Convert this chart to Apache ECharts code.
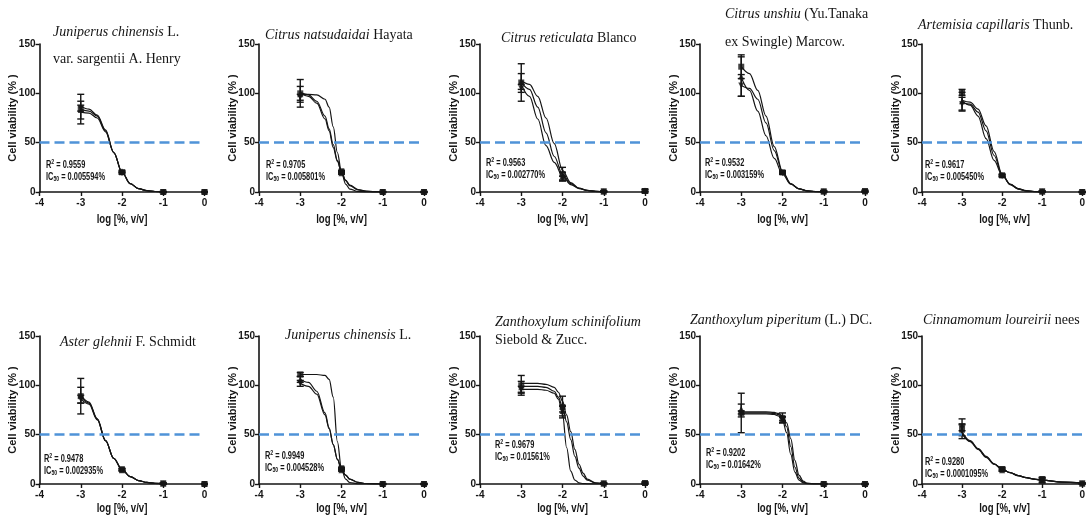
<!DOCTYPE html>
<html><head><meta charset="utf-8">
<script src="https://cdn.jsdelivr.net/npm/echarts@6/dist/echarts.min.js"></script>
<style>html,body{margin:0;padding:0;background:#fff}#c{width:1088px;height:521px}</style>
</head><body><div id="c"></div>
<script>
// ---------- data ----------
const doseX = [-3, -2, -1, 0];
const xTicks = [-4, -3, -2, -1, 0];
const yTicks = [0, 50, 100, 150];
const xAxisTitle = 'log [%, v/v]';
const yAxisTitle = 'Cell viability (% )';

const titleTexts = [
  '{i|Juniperus chinensis}{n| L.}\n{n|var. sargentii A. Henry}',
  '{i|Citrus natsudaidai}{n| Hayata}',
  '{i|Citrus reticulata}{n| Blanco}',
  '{i|Citrus unshiu}{n| (Yu.Tanaka}\n{n|ex Swingle) Marcow.}',
  '{i|Artemisia capillaris}{n| Thunb.}',
  '{i|Aster glehnii}{n| F. Schmidt}',
  '{i|Juniperus chinensis}{n| L.}',
  '{i|Zanthoxylum schinifolium}\n{n|Siebold & Zucc.}',
  '{i|Zanthoxylum piperitum}{n| (L.) DC.}',
  '{i|Cinnamomum loureirii}{n| nees}'
];
const r2Values = ['0.9559', '0.9705', '0.9563', '0.9532', '0.9617', '0.9478', '0.9949', '0.9679', '0.9202', '0.9280'];
const ic50Values = ['0.005594%', '0.005801%', '0.002770%', '0.003159%', '0.005450%', '0.002935%', '0.004528%', '0.01561%', '0.01642%', '0.0001095%'];

// curves
const curveXP1 = [-3, -2.8, -2.6, -2.4, -2.2, -2.0, -1.8, -1.6, -1.4, -1.2, -1.0];
const curvesP1 = [
  [87, 84, 78, 63, 40, 20, 8.5, 3.5, 1.4, 0.5, 0.2],
  [84, 82, 77, 62, 40, 20, 8.5, 3.5, 1.4, 0.5, 0.2],
  [81, 80, 75, 61, 40, 20, 8.5, 3.5, 1.4, 0.5, 0.2]
];
const curveXP2 = [-3, -2.8, -2.6, -2.4, -2.3, -2.2, -2.1, -2.0, -1.9, -1.8, -1.6, -1.4, -1.2, -1.0];
const curvesP2 = [
  [99, 99, 98.5, 94, 86, 66, 40, 20, 8, 3, 0.5, 0.1, 0, 0],
  [100, 97, 90, 74, 62, 45, 31, 20, 12, 7, 2.5, 0.8, 0.3, 0],
  [101, 98.5, 92, 77, 64, 48, 32, 20, 11.5, 6.5, 2.2, 0.7, 0.2, 0]
];
const curveXP3 = [-3, -2.8, -2.6, -2.4, -2.2, -2.0, -1.8, -1.6, -1.4, -1.2, -1.0];
const curvesP3 = [
  [109, 97, 74, 47, 30, 16, 7.5, 3.5, 1.5, 0.6, 0.3],
  [111, 104, 86, 60, 36, 18, 8.5, 3.8, 1.6, 0.6, 0.2],
  [113, 109, 97, 75, 49, 22, 9.5, 4, 1.6, 0.6, 0.2]
];
const curveXP4 = [-3, -2.8, -2.6, -2.4, -2.2, -2.0, -1.8, -1.6, -1.4, -1.2, -1.0];
const curvesP4 = [
  [127, 120, 103, 77, 46, 21, 8.5, 3.2, 1.1, 0.4, 0.2],
  [116, 103, 82, 57, 34, 18, 8, 3.3, 1.2, 0.5, 0.2],
  [108, 105, 94, 70, 42, 20, 8.2, 3.2, 1.1, 0.4, 0.2]
];
const curveXP5 = [-3, -2.8, -2.6, -2.4, -2.2, -2.0, -1.8, -1.6, -1.4, -1.2, -1.0];
const curvesP5 = [
  [92, 88, 77, 54, 32, 17, 8, 3.5, 1.3, 0.5, 0.2],
  [93, 91, 84, 67, 41, 18, 7.5, 3, 1.1, 0.4, 0.1],
  [91, 89, 81, 62, 37, 17.5, 7.8, 3.2, 1.2, 0.4, 0.2]
];
const curveXP6 = [-3, -2.8, -2.6, -2.4, -2.2, -2.0, -1.8, -1.6, -1.4, -1.2, -1.0];
const curvesP6 = [
  [90, 83, 66, 44, 26, 14.5, 7.5, 3.5, 1.6, 0.7, 0.3],
  [88, 82, 66, 44, 26, 14.5, 7.5, 3.5, 1.6, 0.7, 0.3],
  [86, 81, 65, 44, 26, 14.5, 7.5, 3.5, 1.6, 0.7, 0.3]
];
const curveXP7 = [-3, -2.8, -2.6, -2.4, -2.3, -2.2, -2.1, -2.0, -1.9, -1.8, -1.6, -1.4, -1.2, -1.0];
const curvesP7 = [
  [111, 111, 111, 110, 106, 88, 43, 15, 5, 1.5, 0.2, 0, 0, 0],
  [106, 103, 94, 72, 57, 40, 25, 15, 9, 5, 1.6, 0.5, 0.2, 0],
  [102, 99, 91, 70, 56, 40, 25, 15, 9, 5, 1.6, 0.5, 0.2, 0]
];
const curveXP8 = [-3, -2.6, -2.4, -2.2, -2.1, -2.0, -1.9, -1.8, -1.7, -1.6, -1.5, -1.4, -1.2, -1.0];
const curvesP8 = [
  [96, 96, 95, 92, 86, 71, 37, 13, 4, 1.2, 0.4, 0.2, 0, 0],
  [99, 99, 98, 94, 88, 78, 63, 45, 28, 16, 8, 4, 1, 0.3],
  [102, 102, 101, 98, 93, 84, 70, 53, 35, 20, 11, 5, 1.2, 0.3]
];
const curveXP9 = [-3, -2.6, -2.4, -2.2, -2.1, -2.0, -1.9, -1.8, -1.7, -1.6, -1.5, -1.4, -1.2, -1.0];
const curvesP9 = [
  [71, 71, 71, 70.5, 69, 65, 52, 30, 12, 4, 1.2, 0.3, 0, 0],
  [72, 72, 72, 71.5, 70.5, 67, 58, 38, 17, 6, 2, 0.5, 0, 0],
  [73, 73, 73, 72.5, 71.5, 69, 62, 46, 24, 9, 3, 0.8, 0.1, 0]
];
const curveXP10 = [-3, -2.8, -2.6, -2.4, -2.2, -2.0, -1.8, -1.6, -1.4, -1.2, -1.0, -0.5, 0];
const curvesP10 = [
  [53, 44, 36, 28, 20.5, 15, 11.5, 8.5, 6.5, 5, 4, 2, 1],
  [52, 43.5, 35.5, 27.5, 20.5, 15, 11.5, 8.5, 6.5, 5, 4, 2, 1],
  [51, 43, 35, 27, 20, 15, 11.5, 8.5, 6.5, 5, 4, 2, 1]
];

// measured points: mean and error per replicate at doseX
const meansP1 = [[84, 20, 0, 0], [83, 21, 0, 0], [85, 19, 0, 0]];
const errsP1 = [[15, 1, 0.5, 0.5], [9, 1, 0.5, 0.5], [3, 1, 0.5, 0.5]];
const meansP2 = [[100, 20, 0, 0], [99, 19, 0, 0], [96, 21, 0, 0]];
const errsP2 = [[14, 1, 0.5, 0.5], [8, 1, 0.5, 0.5], [3, 1, 0.5, 0.5]];
const meansP3 = [[111, 18, 0.5, 1], [112, 16, 0.5, 1.5], [105, 14, 0.5, 0.5]];
const errsP3 = [[19, 7, 0.5, 2], [8, 4, 0.5, 1], [4, 2, 0.5, 0.5]];
const meansP4 = [[127, 20, 0.5, 1], [117, 20, 0.5, 0.5], [108, 19, 0.5, 0.5]];
const errsP4 = [[12, 1.5, 1, 1], [20, 1, 0.5, 0.5], [11, 1, 0.5, 0.5]];
const meansP5 = [[101, 17, 0.5, 0], [92, 17, 0.5, 0], [89, 16, 0.5, 0]];
const errsP5 = [[3, 1, 0.5, 0.5], [9, 1, 0.5, 0.5], [7, 1, 0.5, 0.5]];
const meansP6 = [[89, 14.5, 0.5, 0], [90, 14, 0.5, 0], [86, 15, 0.5, 0]];
const errsP6 = [[18, 1, 0.5, 0.5], [8, 1, 0.5, 0.5], [4, 1, 0.5, 0.5]];
const meansP7 = [[111, 15, 0, 0], [106, 14, 0, 0], [102, 16, 0, 0]];
const errsP7 = [[2, 1, 0.5, 0.5], [3, 1, 0.5, 0.5], [3, 1, 0.5, 0.5]];
const meansP8 = [[100, 78, 0.5, 1], [98, 74, 0.5, 1], [96, 76, 0.5, 0.5]];
const errsP8 = [[10, 11, 0.5, 1], [6, 5, 0.5, 1], [3, 3, 0.5, 0.5]];
const meansP9 = [[72, 67, 0, 0], [76, 65, 0, 0], [71, 66, 0, 0]];
const errsP9 = [[20, 5, 0.5, 0.5], [5, 3, 0.5, 0.5], [3, 2, 0.5, 0.5]];
const meansP10 = [[56, 15, 4, 0.5], [55, 14, 4, 0.5], [57, 15, 5, 0.5]];
const errsP10 = [[10, 2, 3, 0.5], [6, 1, 2, 0.5], [3, 1, 1, 0.5]];

const curveXs = [curveXP1, curveXP2, curveXP3, curveXP4, curveXP5, curveXP6, curveXP7, curveXP8, curveXP9, curveXP10];
const curveYs = [curvesP1, curvesP2, curvesP3, curvesP4, curvesP5, curvesP6, curvesP7, curvesP8, curvesP9, curvesP10];
const meansAll = [meansP1, meansP2, meansP3, meansP4, meansP5, meansP6, meansP7, meansP8, meansP9, meansP10];
const errsAll = [errsP1, errsP2, errsP3, errsP4, errsP5, errsP6, errsP7, errsP8, errsP9, errsP10];

// ---------- layout / style ----------
const colLeft = [39.5, 259, 480, 700, 922];
const rowTop = [44, 336];
const xNameY = [220, 509];
const plotW = 165, plotH = 148;
const INK = '#151515';
const BLUE = '#4f93d8';
const ARIAL = '"Liberation Sans",Arial,sans-serif';
const SERIF = '"Liberation Serif","Times New Roman",serif';
// title anchor [left, centerY of first line, line spacing]
const titlePos = [[53, 32, 27], [265, 35, 0], [501, 38, 0], [725, 14, 28], [918, 25, 0],
                  [60, 342, 0], [285, 335, 0], [495, 322, 18], [690, 320, 0], [923, 320, 0]];
const notePos = [[46, 165], [266, 165], [486, 163], [705, 163], [925, 165],
                 [44, 459], [265, 456], [495, 445], [706, 453], [925, 462]];
const symbols = ['rect', 'triangle', 'triangle'];
const symRot = [0, 0, 180];

const grid = [], xAxis = [], yAxis = [], series = [], title = [], graphic = [];
for (let i = 0; i < 10; i++) {
  const r = Math.floor(i / 5), c = i % 5;
  grid.push({left: colLeft[c], top: rowTop[r], width: plotW, height: plotH});
  xAxis.push({
    type: 'value', gridIndex: i, min: xTicks[0], max: xTicks[xTicks.length - 1], interval: 1,
    axisLine: {show: true, onZero: false, lineStyle: {color: INK, width: 1.6}},
    axisTick: {show: true, inside: false, length: 4, lineStyle: {color: INK, width: 1.4}},
    axisLabel: {fontFamily: ARIAL, fontSize: 10, fontWeight: 'bold', color: INK, margin: 6},
    splitLine: {show: false}
  });
  yAxis.push({
    type: 'value', gridIndex: i, min: yTicks[0], max: yTicks[yTicks.length - 1], interval: 50,
    name: yAxisTitle, nameLocation: 'middle', nameGap: 21, nameMoveOverlap: false,
    nameTextStyle: {fontFamily: ARIAL, fontSize: 11, fontWeight: 'bold', color: INK},
    axisLine: {show: true, onZero: false, lineStyle: {color: INK, width: 1.6}},
    axisTick: {show: true, inside: false, length: 4, lineStyle: {color: INK, width: 1.4}},
    axisLabel: {fontFamily: ARIAL, fontSize: 10, fontWeight: 'bold', color: INK, margin: 4},
    splitLine: {show: false}
  });
  // x axis title (horizontally condensed like the original)
  graphic.push({
    type: 'text', x: colLeft[c] + plotW / 2, y: xNameY[r], scaleX: 0.8, silent: true,
    style: {text: xAxisTitle, fill: INK, fontFamily: ARIAL, fontSize: 12, fontWeight: 'bold',
            align: 'center', verticalAlign: 'middle'}
  });
  // curves
  curveYs[i].forEach((ys, k) => {
    const s = {
      type: 'line', xAxisIndex: i, yAxisIndex: i, smooth: 0.35, smoothMonotone: 'x',
      showSymbol: false, symbol: 'none', silent: true, z: 3,
      lineStyle: {color: INK, width: 1.2},
      data: curveXs[i].map((x, j) => [x, ys[j]])
    };
    if (k === 0) {
      s.markLine = {
        silent: true, symbol: 'none', label: {show: false}, animation: false,
        lineStyle: {color: BLUE, type: [10, 5], width: 2.6},
        data: [{yAxis: 50}]
      };
    }
    series.push(s);
  });
  // error bars
  const errData = [];
  meansAll[i].forEach((m, k) => {
    m.forEach((v, j) => errData.push([doseX[j], v - errsAll[i][k][j], v + errsAll[i][k][j]]));
  });
  series.push({
    type: 'custom', xAxisIndex: i, yAxisIndex: i, z: 4, silent: true, clip: false,
    data: errData,
    renderItem: function (params, api) {
      const lo = api.coord([api.value(0), api.value(1)]);
      const hi = api.coord([api.value(0), api.value(2)]);
      const w = 3.5, st = {stroke: INK, lineWidth: 1.4};
      return {type: 'group', children: [
        {type: 'line', shape: {x1: lo[0], y1: lo[1], x2: hi[0], y2: hi[1]}, style: st},
        {type: 'line', shape: {x1: lo[0] - w, y1: lo[1], x2: lo[0] + w, y2: lo[1]}, style: st},
        {type: 'line', shape: {x1: hi[0] - w, y1: hi[1], x2: hi[0] + w, y2: hi[1]}, style: st}
      ]};
    }
  });
  // markers
  meansAll[i].forEach((m, k) => {
    series.push({
      type: 'scatter', xAxisIndex: i, yAxisIndex: i, z: 5, silent: true,
      symbol: symbols[k], symbolRotate: symRot[k], symbolSize: 6,
      itemStyle: {color: INK},
      data: m.map((v, j) => [doseX[j], v])
    });
  });
  // titles
  const tp = titlePos[i];
  const lh = tp[2] || 18;
  title.push({
    text: titleTexts[i], left: tp[0], top: tp[1] - lh / 2, padding: 0,
    textStyle: {
      fontFamily: SERIF, fontSize: 14, fontWeight: 'normal', color: INK, lineHeight: lh,
      rich: {
        i: {fontFamily: SERIF, fontSize: 14, fontStyle: 'italic', color: INK, lineHeight: lh},
        n: {fontFamily: SERIF, fontSize: 14, color: INK, lineHeight: lh}
      }
    }
  });
  // R² / IC50 notes (condensed)
  const np = notePos[i];
  graphic.push({
    type: 'text', x: np[0], y: np[1] - 6, scaleX: 0.74, silent: true, z: 10,
    style: {
      text: '{b|R}{sup|2}{b| = ' + r2Values[i] + '}\n{b|IC}{sub|50}{b| = ' + ic50Values[i] + '}',
      fill: INK, fontFamily: ARIAL, fontSize: 10, fontWeight: 'bold', lineHeight: 12,
      align: 'left', verticalAlign: 'top',
      rich: {
        b: {fontFamily: ARIAL, fontSize: 10, fontWeight: 'bold', fill: INK, lineHeight: 12},
        sup: {fontFamily: ARIAL, fontSize: 7, fontWeight: 'bold', fill: INK, lineHeight: 7, verticalAlign: 'top'},
        sub: {fontFamily: ARIAL, fontSize: 7, fontWeight: 'bold', fill: INK, lineHeight: 7, verticalAlign: 'bottom'}
      }
    }
  });
}

const chart = echarts.init(document.getElementById('c'), null, {renderer: 'canvas'});
chart.setOption({animation: false, backgroundColor: '#fff', title, grid, xAxis, yAxis, series, graphic});
</script></body></html>
